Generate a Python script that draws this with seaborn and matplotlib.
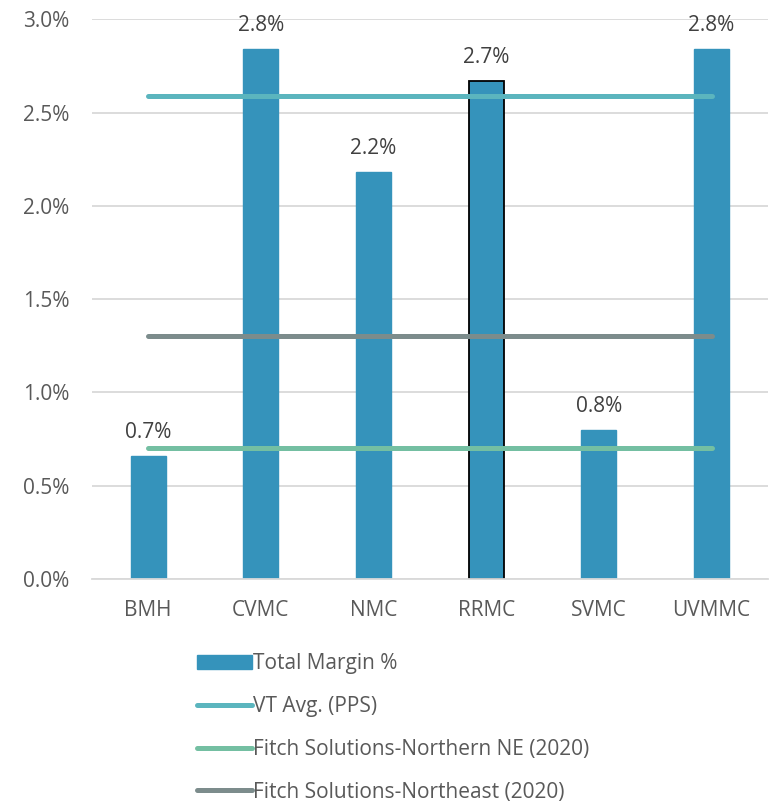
import numpy as np
import matplotlib.pyplot as plt
import seaborn as sns
from matplotlib.patches import Patch
from matplotlib.lines import Line2D

sns.set_style("white")
plt.rcParams["font.family"] = ["Open Sans", "DejaVu Sans"]

# data (percent)
hospitals = ["BMH", "CVMC", "NMC", "RRMC", "SVMC", "UVMMC"]
total_margin = [0.66, 2.84, 2.18, 2.67, 0.80, 2.84]
vt_avg = 2.59
fitch_northern_ne = 0.70
fitch_northeast = 1.30

bar_color = "#3593bb"
vt_color = "#5bb5be"
nne_color = "#74bfa2"
ne_color = "#7c8c8c"
text_color = "#595959"
fs = 15

fig = plt.figure(figsize=(7.71, 8.02), dpi=100)
ax = fig.add_axes([0.119, 0.278, 0.877, 0.698])

sns.barplot(x=hospitals, y=total_margin, color=bar_color, width=0.31,
            saturation=1, ax=ax, zorder=2)

# RRMC bar has a black outline in the original
for bar, name in zip(ax.patches, hospitals):
    if name == "RRMC":
        bar.set_edgecolor("black")
        bar.set_linewidth(1.3)
    else:
        bar.set_edgecolor(bar_color)

# value labels
for i, v in enumerate(total_margin):
    ax.text(i, v + 0.07, f"{v:.1f}%", ha="center", va="bottom",
            fontsize=fs, color="#404040")

# benchmark lines, from first to last category
xs = np.arange(len(hospitals))
for val, col in [(fitch_northern_ne, nne_color), (fitch_northeast, ne_color),
                 (vt_avg, vt_color)]:
    sns.lineplot(x=xs, y=[val] * len(xs), color=col, linewidth=3.6,
                 solid_capstyle="round", ax=ax, zorder=3)

ax.set_ylim(0, 3.0)
ax.set_xlim(-0.5, len(hospitals) - 0.5)
ax.set_yticks(np.arange(0, 3.01, 0.5))
ax.set_yticklabels([f"{t:.1f}%" for t in np.arange(0, 3.01, 0.5)])
ax.yaxis.grid(True, color="#d9d9d9", linewidth=1.3, zorder=0)
ax.set_axisbelow(True)
for s in ["top", "right", "left"]:
    ax.spines[s].set_visible(False)
ax.spines["bottom"].set_color("#d9d9d9")
ax.spines["bottom"].set_linewidth(1.3)
ax.tick_params(axis="both", length=0, labelsize=fs, labelcolor=text_color)
ax.tick_params(axis="x", pad=15)
ax.tick_params(axis="y", pad=16)

handles = [
    Patch(facecolor=bar_color, edgecolor=bar_color),
    Line2D([], [], color=vt_color, linewidth=3.6, solid_capstyle="round"),
    Line2D([], [], color=nne_color, linewidth=3.6, solid_capstyle="round"),
    Line2D([], [], color=ne_color, linewidth=3.6, solid_capstyle="round"),
]
labels = ["Total Margin %", "VT Avg. (PPS)",
          "Fitch Solutions-Northern NE (2020)",
          "Fitch Solutions-Northeast (2020)"]
leg = fig.legend(handles, labels, loc="upper left",
                 bbox_to_anchor=(0.245, 0.196), frameon=False, fontsize=fs,
                 handlelength=2.65, handleheight=0.7, handletextpad=0.05,
                 labelspacing=1.05, borderaxespad=0)
for t in leg.get_texts():
    t.set_color(text_color)

fig.savefig("out.png", dpi=100)
